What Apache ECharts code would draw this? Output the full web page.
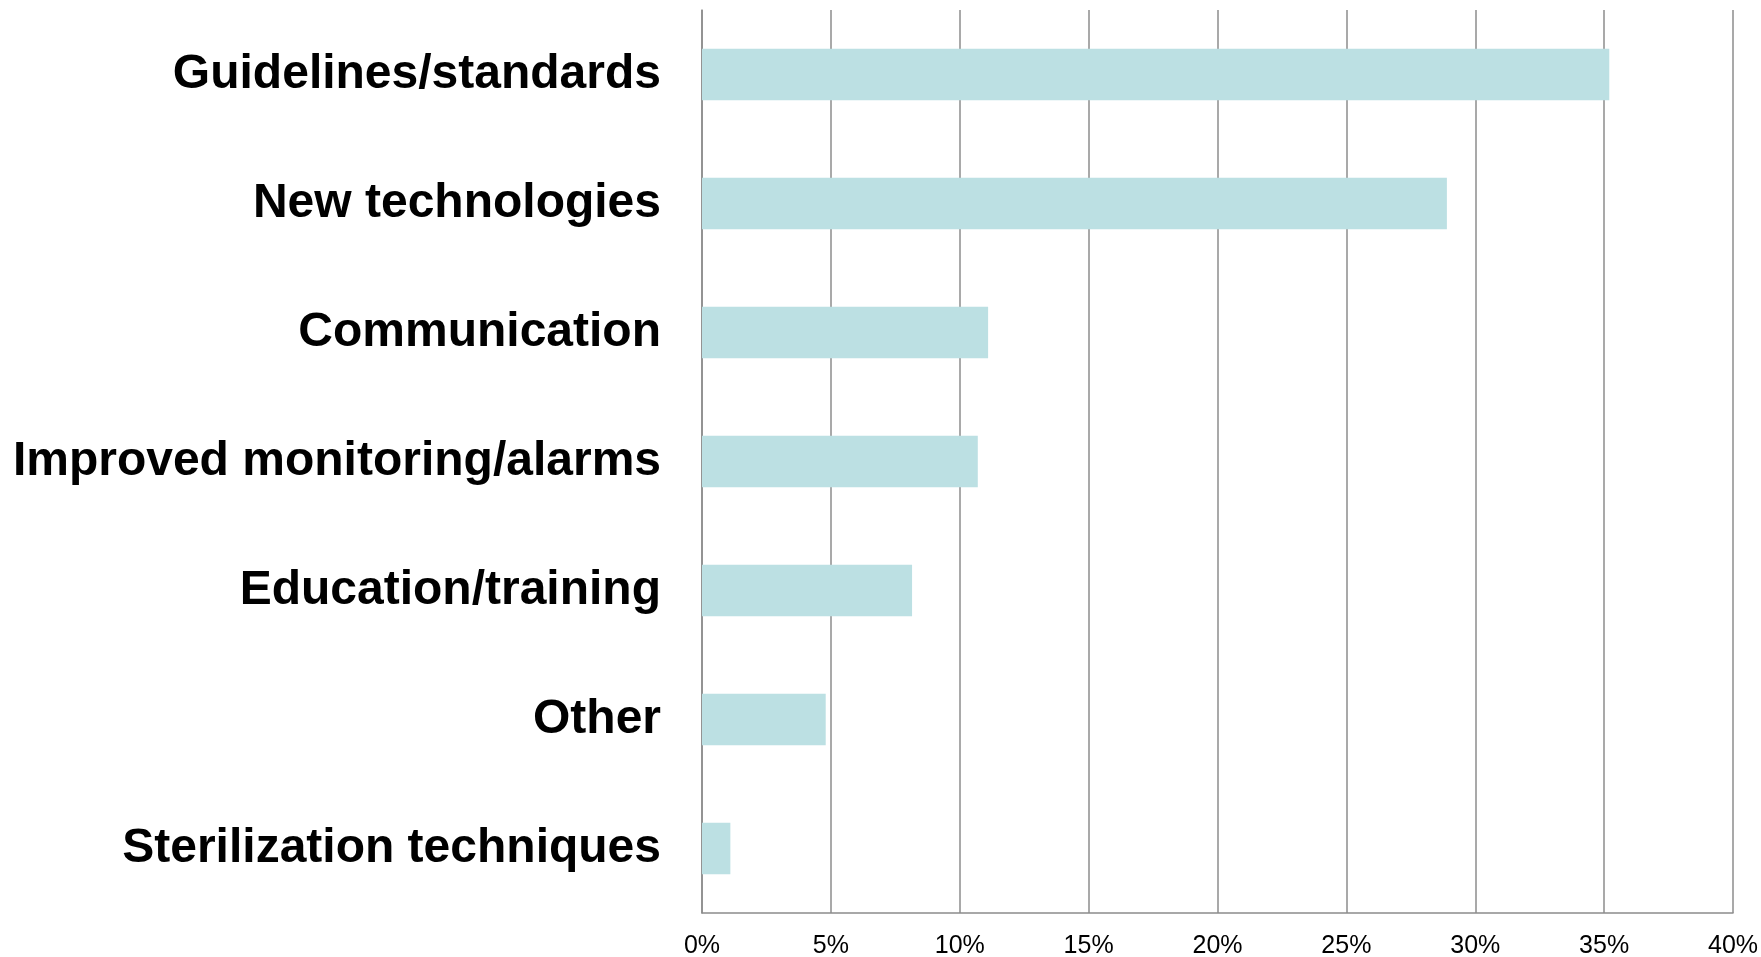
<!DOCTYPE html>
<html>
<head>
<meta charset="utf-8">
<script src="https://cdn.jsdelivr.net/npm/echarts@6/dist/echarts.min.js"></script>
<style>
  html, body { margin: 0; padding: 0; background: #fff; }
  #chart { width: 1761px; height: 957px; }
</style>
</head>
<body>
<div id="chart"></div>
<script>
const categories = [
  'Guidelines/standards',
  'New technologies',
  'Communication',
  'Improved monitoring/alarms',
  'Education/training',
  'Other',
  'Sterilization techniques'
]
const shares = [35.2, 28.9, 11.1, 10.7, 8.15, 4.8, 1.1]
const tickStep = 5
const tickMax = 40

const chart = echarts.init(document.getElementById('chart'))
const gray = '#8c8c8c'
chart.setOption({
  animation: false,
  textStyle: { fontFamily: '"Liberation Sans", Arial, sans-serif' },
  grid: { left: 702, right: 28, top: 10, bottom: 44, containLabel: false, outerBoundsMode: 'none' },
  xAxis: {
    type: 'value',
    min: 0,
    max: tickMax,
    interval: tickStep,
    axisLine: { show: true, lineStyle: { color: gray, width: 1.5 } },
    axisTick: { show: false },
    splitLine: { show: true, lineStyle: { color: gray, width: 1.5 } },
    axisLabel: {
      formatter: '{value}%',
      fontSize: 25,
      color: '#000',
      margin: 21
    }
  },
  yAxis: {
    type: 'category',
    data: categories,
    inverse: true,
    axisLine: { show: true, lineStyle: { color: gray, width: 1.5 } },
    axisTick: { show: false },
    axisLabel: {
      fontSize: 48,
      fontWeight: 'bold',
      color: '#000',
      margin: 41,
      padding: [8, 0, 0, 0]
    }
  },
  series: [
    {
      type: 'bar',
      data: shares,
      barCategoryGap: '60%',
      itemStyle: { color: '#bce0e3' }
    }
  ]
})
</script>
</body>
</html>
